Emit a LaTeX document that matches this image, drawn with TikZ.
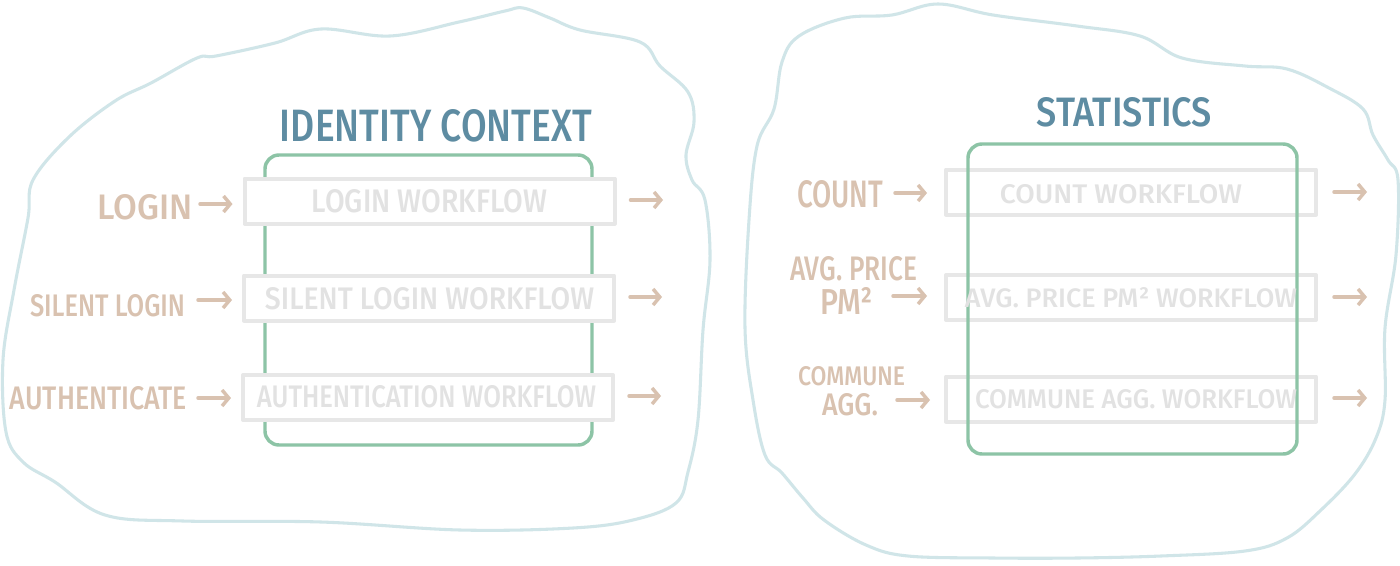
\documentclass[tikz,border=0pt]{standalone}
\usepackage{fontspec}
\setmainfont{Fira Sans}[BoldFont={Fira Sans Medium}]
\usetikzlibrary{arrows.meta}
\newlength\pxu
\setlength\pxu{0.75pt}
\newcommand\fitt[3]{\resizebox{#1\pxu}{#2\pxu}{\bfseries #3}}
\definecolor{blobc}{HTML}{D0E5E8}
\definecolor{ctxg}{HTML}{8DC4A6}
\definecolor{boxg}{HTML}{E7E7E7}
\definecolor{boxt}{HTML}{E2E2E2}
\definecolor{tan}{HTML}{D9C2B0}
\definecolor{titlec}{HTML}{5E8CA2}
\tikzset{
  blob/.style={draw=blobc, line width=2.3pt},
  ctx/.style={draw=ctxg, line width=2.6pt, rounded corners=10.5pt},
  wfbox/.style={draw=boxg, line width=3pt, inner sep=0, minimum width=277.5pt, minimum height=33.75pt},
  wftext/.style={text=boxt, inner sep=0},
  lbl/.style={text=tan, inner sep=0},
  ttl/.style={text=titlec, inner sep=0},
  arr/.style={draw=tan, line width=2.6pt, -{Straight Barb[length=5pt,width=12pt]}}
}
\begin{document}
\begin{tikzpicture}[x=0.75pt, y=-0.75pt, line cap=round, line join=round]
\useasboundingbox (0,0) rectangle (1400,565);
\fill[white] (0,0) rectangle (1400,565);

% ---------- left blob ----------
\draw[blob] plot[smooth cycle, tension=0.6] coordinates {
 (523,8) (550,18) (580,30) (640,42) (660,66) (688,92) (694,122) (686,155)
 (692,180) (705,200) (710,260) (703,330) (698,420) (688,472) (676,503)
 (633,520) (573,528) (460,530) (321,522) (183,521) (105,515) (55,482)
 (23,462) (6,432) (3,360) (14,290) (28,218) (33,180) (69,137) (115,101)
 (151,83) (197,58) (216,56) (275,43) (321,29) (390,36) (459,22) (505,11)};

% ---------- right blob ----------
\draw[blob] plot[smooth cycle, tension=0.6] coordinates {
 (938,4) (993,15) (1077,26) (1140,36) (1182,58) (1245,66) (1287,69)
 (1329,88) (1363,109) (1373,135) (1388,160) (1398,180) (1396,255)
 (1385,328) (1385,400) (1376,438) (1355,474) (1321,510) (1287,538)
 (1245,551) (1161,556) (1077,558) (993,558) (908,556) (866,545) (824,520)
 (803,498) (782,473) (765,455) (753,400) (745,328) (749,220) (757,146)
 (774,109) (782,62) (799,36) (845,18) (892,15)};

% ---------- identity context ----------
\node[ttl] (title1) at (436,126) {\fitt{312}{32}{IDENTITY CONTEXT}};
\draw[ctx] (265,155) rectangle (592,445);

\node[wfbox, fill=white] (b1) at (429.5,201) {};
\node[wfbox, fill=white] (b2) at (429,298) {};
\node[wfbox, fill=white] (b3) at (428,397.5) {};

\node[wftext] (t1) at (429.5,201.5) {\fitt{235}{23}{LOGIN WORKFLOW}};
\node[wftext] (t2) at (429.5,299) {\fitt{329}{22}{SILENT LOGIN WORKFLOW}};
\node[wftext] (t3) at (426.5,397) {\fitt{339}{22}{AUTHENTICATION WORKFLOW}};

\node[lbl] (l1) at (145.5,207.5) {\fitt{95}{25}{LOGIN}};
\node[lbl] (l2) at (107.5,306) {\fitt{155}{22}{SILENT LOGIN}};
\node[lbl] (l3) at (98.5,398.5) {\fitt{177}{23}{AUTHENTICATE}};

\coordinate (i1) at (200,204);
\coordinate (i2) at (198,300);
\coordinate (i3) at (198,398);
\draw[arr, shorten >=7.5pt] (i1) -- (i1 -| b1.west);
\draw[arr, shorten >=7.5pt] (i2) -- (i2 -| b2.west);
\draw[arr, shorten >=7.5pt] (i3) -- (i3 -| b3.west);

\coordinate (o1) at (663,200);
\coordinate (o2) at (662,297);
\coordinate (o3) at (661,396);
\draw[arr, shorten <=10.5pt] (o1 -| b1.east) -- (o1);
\draw[arr, shorten <=10.5pt] (o2 -| b2.east) -- (o2);
\draw[arr, shorten <=10.5pt] (o3 -| b3.east) -- (o3);

% ---------- statistics ----------
\node[ttl] (title2) at (1124.5,112.5) {\fitt{175}{29}{STATISTICS}};

\node[wfbox] (b4) at (1131,192) {};
\node[wfbox] (b5) at (1131,297.5) {};
\node[wfbox] (b6) at (1131,399) {};

\draw[ctx] (968,144) rectangle (1297,454);

\node[wftext] (t4) at (1121,194.5) {\fitt{242}{19}{COUNT WORKFLOW}};
\node[wftext] (t5) at (1131,298) {\fitt{332}{20}{AVG. PRICE PM² WORKFLOW}};
\node[wftext] (t6) at (1136,399.5) {\fitt{322}{19}{COMMUNE AGG. WORKFLOW}};

\node[lbl] (l4) at (840,194) {\fitt{86}{27}{COUNT}};
\node[lbl] (l5a) at (853.5,268.5) {\fitt{127}{24}{AVG. PRICE}};
\node[lbl] (l5b) at (846.5,301) {\fitt{53}{27}{PM²}};
\node[lbl] (l6a) at (851.5,376) {\fitt{107}{19}{COMMUNE}};
\node[lbl] (l6b) at (850,404.5) {\fitt{56}{22}{AGG.}};

\coordinate (i4) at (895,193);
\coordinate (i5) at (893,296);
\coordinate (i6) at (897,400);
\draw[arr, shorten >=12.75pt] (i4) -- (i4 -| b4.west);
\draw[arr, shorten >=12.75pt] (i5) -- (i5 -| b5.west);
\draw[arr, shorten >=10.5pt] (i6) -- (i6 -| b6.west);

\coordinate (o4) at (1367,192);
\coordinate (o5) at (1367,297);
\coordinate (o6) at (1367,398);
\draw[arr, shorten <=12pt] (o4 -| b4.east) -- (o4);
\draw[arr, shorten <=12pt] (o5 -| b5.east) -- (o5);
\draw[arr, shorten <=12pt] (o6 -| b6.east) -- (o6);
\end{tikzpicture}
\end{document}
